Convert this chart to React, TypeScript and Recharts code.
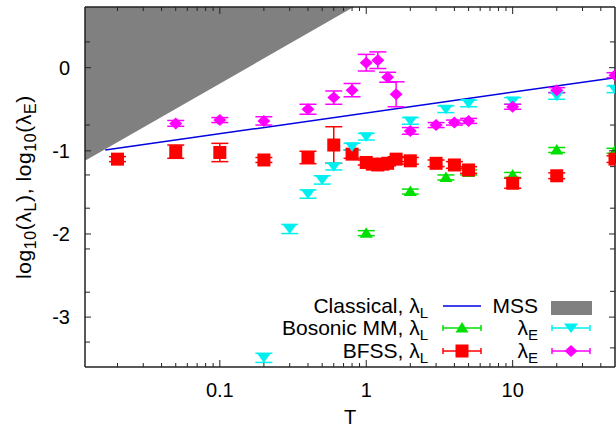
import React from "react";
import { ComposedChart, XAxis, YAxis, Scatter, Line, Area, ErrorBar } from "recharts";

const FONT = '"Liberation Sans", Arial, Helvetica, sans-serif';

// axis ticks
const xMajor = [0.1, 1, 10];
const xMinor = [
  0.02, 0.03, 0.04, 0.05, 0.06, 0.07, 0.08, 0.09,
  0.2, 0.3, 0.4, 0.5, 0.6, 0.7, 0.8, 0.9,
  2, 3, 4, 5, 6, 7, 8, 9,
  20, 30, 40,
];
const yMajor = [0, -1, -2, -3];
const yMinorLeft = [0.31, -0.69, -1.29, -1.69, -2.18, -2.7, -3.3];
const yMinorRight = [0.31, -0.69, -1.19, -1.69, -2.18, -2.69, -3.37];

// Classical lambda_L line
const classicalT = [0.0165, 50];
const classicalL = [-0.99, -0.12];

// MSS bound region (upper left)
const mssT = [0.012, 0.82];
const mssLow = [-1.12, 0.73];
const mssHigh = [0.73, 0.73];

// Bosonic MM, lambda_L
const bosonicT = [1.0, 2, 3.5, 5, 10, 20, 50];
const bosonicL = [-1.99, -1.49, -1.32, -1.26, -1.29, -0.99, -1.0];
const bosonicLErr = [0.03, 0.03, 0.03, 0.03, 0.03, 0.03, 0.03];

// Bosonic MM, lambda_E
const bosonicET = [0.2, 0.3, 0.4, 0.5, 0.6, 0.8, 1.0, 2, 3.5, 5, 10, 20, 50];
const bosonicE = [-3.49, -1.94, -1.52, -1.35, -1.19, -0.95, -0.83, -0.64, -0.5, -0.43, -0.4, -0.34, -0.26];
const bosonicEErr = [0.055, 0.055, 0.05, 0.05, 0.04, 0.04, 0.04, 0.04, 0.04, 0.04, 0.04, 0.04, 0.04];

// BFSS, lambda_L
const bfssT = [0.02, 0.05, 0.1, 0.2, 0.4, 0.6, 0.8, 1.0, 1.1, 1.2, 1.3, 1.4, 1.6, 2, 3, 4, 5, 10, 20, 50];
const bfssL = [-1.1, -1.01, -1.02, -1.11, -1.08, -0.93, -1.04, -1.14, -1.16, -1.17, -1.16, -1.15, -1.1, -1.12, -1.15, -1.17, -1.23, -1.39, -1.3, -1.1];
const bfssLErr = [0.03, 0.08, 0.11, 0.03, 0.075, 0.22, 0.05, 0.03, 0.03, 0.03, 0.03, 0.03, 0.03, 0.04, 0.04, 0.04, 0.04, 0.06, 0.035, 0.04];

// BFSS, lambda_E
const bfssET = [0.05, 0.1, 0.2, 0.4, 0.6, 0.8, 1.0, 1.2, 1.4, 1.6, 2, 3, 4, 5, 10, 20, 50];
const bfssE = [-0.67, -0.63, -0.64, -0.5, -0.36, -0.27, 0.06, 0.09, -0.115, -0.32, -0.76, -0.69, -0.66, -0.64, -0.47, -0.27, -0.09];
const bfssEErr = [0.035, 0.03, 0.05, 0.06, 0.08, 0.08, 0.1, 0.1, 0.06, 0.15, 0.04, 0.03, 0.03, 0.03, 0.03, 0.03, 0.03];

const RED = "#ff0000";
const GREEN = "#00e000";
const CYAN = "#00f0f0";
const MAGENTA = "#ff00ff";
const BLUE = "#0000e0";
const GRAY = "#808080";
const AXIS = "#222";

const pts = (t: number[], v: number[], e: number[]) => t.map((T, i) => ({ T, y: v[i], e: e[i] }));

const classicalData = classicalT.map((T, i) => ({ T, y: classicalL[i] }));
const mssData = mssT.map((T, i) => ({ T, range: [mssLow[i], mssHigh[i]] }));
const bosonicLData = pts(bosonicT, bosonicL, bosonicLErr);
const bosonicEData = pts(bosonicET, bosonicE, bosonicEErr);
const bfssLData = pts(bfssT, bfssL, bfssLErr);
const bfssEData = pts(bfssET, bfssE, bfssEErr);

const xTicks = [...xMajor, ...xMinor].sort((a, b) => a - b);
const yTicksLeft = [...yMajor, ...yMinorLeft].sort((a, b) => a - b);
const yTicksRight = [...yMajor, ...yMinorRight].sort((a, b) => a - b);

// marker shapes
const Square = (p: any) => <rect x={p.cx - 6.5} y={p.cy - 6.5} width={13} height={13} fill={RED} />;
const TriUp = (p: any) => (
  <polygon points={`${p.cx},${p.cy - 6} ${p.cx + 6.5},${p.cy + 4.5} ${p.cx - 6.5},${p.cy + 4.5}`} fill={GREEN} />
);
const TriDown = (p: any) => (
  <polygon points={`${p.cx - 7},${p.cy - 4.5} ${p.cx + 7},${p.cy - 4.5} ${p.cx},${p.cy + 5}`} fill={CYAN} />
);
const Diamond = (p: any) => (
  <polygon points={`${p.cx},${p.cy - 6} ${p.cx + 6.5},${p.cy} ${p.cx},${p.cy + 6} ${p.cx - 6.5},${p.cy}`} fill={MAGENTA} />
);

// ticks, drawn inward like gnuplot
const BottomTick = (p: any) => {
  const v = p.payload.value;
  const major = xMajor.includes(v);
  return (
    <g>
      <line x1={p.x} x2={p.x} y1={p.y} y2={p.y - (major ? 7 : 4)} stroke={AXIS} strokeWidth={1} />
      {major && (
        <text x={p.x} y={p.y + 30} textAnchor="middle" fontSize={20} fontFamily={FONT} fill="#000">
          {String(v)}
        </text>
      )}
    </g>
  );
};
const TopTick = (p: any) => {
  const major = xMajor.includes(p.payload.value);
  return <line x1={p.x} x2={p.x} y1={p.y} y2={p.y + (major ? 7 : 4)} stroke={AXIS} strokeWidth={1} />;
};
const LeftTick = (p: any) => {
  const v = p.payload.value;
  const major = yMajor.includes(v);
  return (
    <g>
      <line x1={p.x} x2={p.x + (major ? 6 : 5)} y1={p.y} y2={p.y} stroke={AXIS} strokeWidth={1} />
      {major && (
        <text x={p.x - 15} y={p.y + 7} textAnchor="end" fontSize={20} fontFamily={FONT} fill="#000">
          {String(v)}
        </text>
      )}
    </g>
  );
};
const RightTick = (p: any) => {
  const major = yMajor.includes(p.payload.value);
  return <line x1={p.x} x2={p.x - (major ? 6 : 5)} y1={p.y} y2={p.y} stroke={AXIS} strokeWidth={1} />;
};

const axisLine = { stroke: AXIS, strokeWidth: 1.5 };

const Sub = ({ children, size = 15 }: { children: React.ReactNode; size?: number }) => (
  <tspan fontSize={size} dy={5}>
    {children}
  </tspan>
);

const ErrSample = ({ x1, x2, y, color }: { x1: number; x2: number; y: number; color: string }) => (
  <g stroke={color} strokeWidth={1.5}>
    <line x1={x1} x2={x2} y1={y} y2={y} />
    <line x1={x1} x2={x1} y1={y - 3} y2={y + 3} />
    <line x1={x2} x2={x2} y1={y - 3} y2={y + 3} />
  </g>
);

const Overlay = () => (
  <svg width={616} height={428} style={{ position: "absolute", left: 0, top: 0, pointerEvents: "none" }} fontFamily={FONT}>
    {/* y axis title */}
    <text transform="translate(31,187) rotate(-90)" textAnchor="middle" fontSize={21} fill="#000" letterSpacing={0.6}>
      log<Sub size={16}>10</Sub>
      <tspan dy={-5}>(λ</tspan>
      <Sub size={16}>L</Sub>
      <tspan dy={-5}>), log</tspan>
      <Sub size={16}>10</Sub>
      <tspan dy={-5}>(λ</tspan>
      <Sub size={16}>E</Sub>
      <tspan dy={-5}>)</tspan>
    </text>
    {/* x axis title */}
    <text x={350} y={424} textAnchor="middle" fontSize={20} fill="#000">
      T
    </text>

    {/* legend */}
    <g fontSize={21} fill="#000">
      <text x={428} y={313} textAnchor="end">
        Classical, λ<Sub>L</Sub>
      </text>
      <text x={428} y={335} textAnchor="end">
        Bosonic MM, λ<Sub>L</Sub>
      </text>
      <text x={428} y={358} textAnchor="end">
        BFSS, λ<Sub>L</Sub>
      </text>
      <text x={538} y={313} textAnchor="end">
        MSS
      </text>
      <text x={538} y={335} textAnchor="end">
        λ<Sub>E</Sub>
      </text>
      <text x={538} y={358} textAnchor="end">
        λ<Sub>E</Sub>
      </text>
    </g>
    <line x1={443} x2={481} y1={306} y2={306} stroke={BLUE} strokeWidth={1.5} />
    <ErrSample x1={443} x2={481} y={328} color={GREEN} />
    <TriUp cx={462} cy={328} />
    <ErrSample x1={443} x2={481} y={351} color={RED} />
    <Square cx={462} cy={351} />
    <rect x={551} y={301} width={41} height={14} fill={GRAY} />
    <ErrSample x1={552} x2={590} y={328} color={CYAN} />
    <TriDown cx={571} cy={328} />
    <ErrSample x1={552} x2={590} y={351} color={MAGENTA} />
    <Diamond cx={571} cy={351} />
  </svg>
);

const errProps = { dataKey: "e", direction: "y" as const, width: 8.5, strokeWidth: 1.5 };

export default function App() {
  return (
    <div style={{ position: "absolute", left: 0, top: 0, width: 616, height: 428, background: "#fff" }}>
      <ComposedChart width={616} height={428} margin={{ top: 6, right: 0, bottom: 0, left: 0 }}>
        <XAxis
          xAxisId="b"
          dataKey="T"
          type="number"
          scale="log"
          domain={[0.012, 50]}
          allowDataOverflow
          ticks={xTicks}
          interval={0}
          tickSize={0}
          tickMargin={0}
          tickLine={false}
          height={61}
          axisLine={axisLine}
          tick={BottomTick}
        />
        <XAxis
          xAxisId="t"
          orientation="top"
          dataKey="T"
          type="number"
          scale="log"
          domain={[0.012, 50]}
          allowDataOverflow
          ticks={xTicks}
          interval={0}
          tickSize={0}
          tickMargin={0}
          tickLine={false}
          height={1}
          axisLine={axisLine}
          tick={TopTick}
        />
        <YAxis
          yAxisId="l"
          dataKey="y"
          type="number"
          domain={[-3.6, 0.73]}
          allowDataOverflow
          ticks={yTicksLeft}
          interval={0}
          tickSize={0}
          tickMargin={0}
          tickLine={false}
          width={85}
          axisLine={axisLine}
          tick={LeftTick}
        />
        <YAxis
          yAxisId="r"
          orientation="right"
          dataKey="y"
          type="number"
          domain={[-3.6, 0.73]}
          allowDataOverflow
          ticks={yTicksRight}
          interval={0}
          tickSize={0}
          tickMargin={0}
          tickLine={false}
          width={1}
          axisLine={axisLine}
          tick={RightTick}
        />
        <Line
          xAxisId="b"
          yAxisId="l"
          data={classicalData}
          dataKey="y"
          type="linear"
          stroke={BLUE}
          strokeWidth={1.5}
          dot={false}
          isAnimationActive={false}
        />
        <Area
          xAxisId="b"
          yAxisId="l"
          data={mssData}
          dataKey="range"
          type="linear"
          stroke="none"
          fill={GRAY}
          fillOpacity={1}
          isAnimationActive={false}
        />
        <Scatter xAxisId="b" yAxisId="l" data={bosonicLData} shape={TriUp} isAnimationActive={false}>
          <ErrorBar {...errProps} stroke={GREEN} />
        </Scatter>
        <Scatter xAxisId="b" yAxisId="l" data={bfssLData} shape={Square} isAnimationActive={false}>
          <ErrorBar {...errProps} stroke={RED} />
        </Scatter>
        <Scatter xAxisId="b" yAxisId="l" data={bosonicEData} shape={TriDown} isAnimationActive={false}>
          <ErrorBar {...errProps} stroke={CYAN} />
        </Scatter>
        <Scatter xAxisId="b" yAxisId="l" data={bfssEData} shape={Diamond} isAnimationActive={false}>
          <ErrorBar {...errProps} stroke={MAGENTA} />
        </Scatter>
      </ComposedChart>
      <Overlay />
    </div>
  );
}
